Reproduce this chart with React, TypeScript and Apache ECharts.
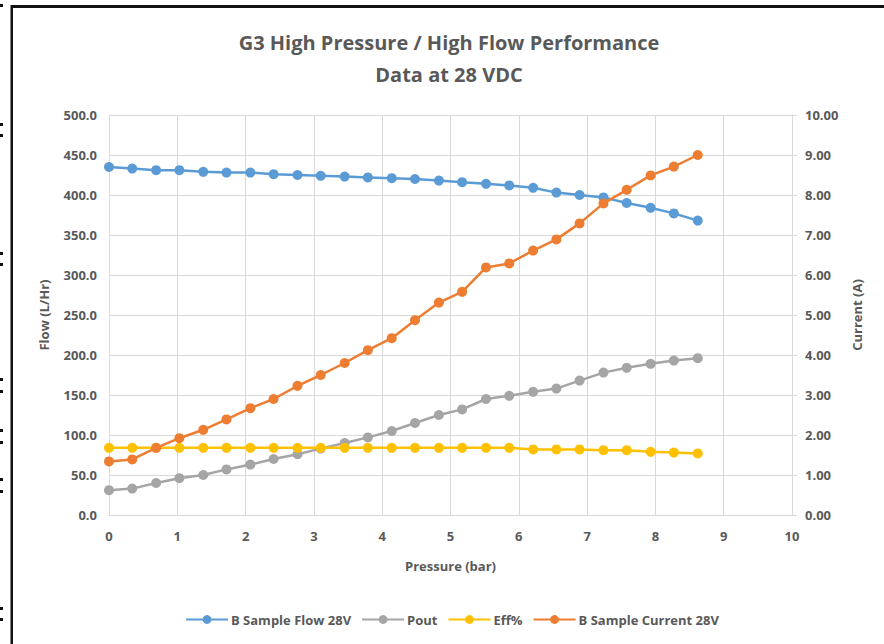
import React, { useEffect, useRef } from "react";
import * as echarts from "echarts";

const pressure = [0, 0.34, 0.69, 1.03, 1.38, 1.72, 2.07, 2.41, 2.76, 3.1, 3.45, 3.79, 4.14, 4.48, 4.83, 5.17, 5.52, 5.86, 6.21, 6.55, 6.89, 7.24, 7.58, 7.93, 8.27, 8.62];
const flow = [435, 433, 431, 431, 429, 428, 428, 426, 425, 424, 423, 422, 421, 420, 418, 416, 414, 412, 409, 403, 400, 397, 390, 384, 377, 368];
const pout = [31, 33, 40, 46, 50, 57, 63, 70, 76, 83, 90, 97, 105, 115, 125, 132, 145, 149, 154, 158, 168, 178, 184, 189, 193, 196];
const eff = [84, 84, 84, 84, 84, 84, 84, 84, 84, 84, 84, 84, 84, 84, 84, 84, 84, 84, 82, 82, 82, 81, 81, 79, 78, 77];
const current = [1.34, 1.39, 1.68, 1.92, 2.13, 2.39, 2.67, 2.9, 3.23, 3.5, 3.8, 4.12, 4.42, 4.87, 5.31, 5.58, 6.19, 6.29, 6.61, 6.89, 7.29, 7.79, 8.13, 8.49, 8.71, 9.0];

const seriesNames = ["B Sample Flow 28V", "Pout", "Eff%", "B Sample Current 28V"];
const seriesColors = ["#5b9bd5", "#a5a5a5", "#ffc000", "#ed7d31"];
const titleText = "G3 High Pressure / High Flow Performance\nData at 28 VDC";
const markYs = [4, 123, 134, 252, 263, 378, 390, 429, 441, 478, 490, 607, 618];

const FONT = "'Open Sans', 'Noto Sans', sans-serif";
const TXT = "#595959";

export default function App() {
  const ref = useRef<HTMLDivElement>(null);
  useEffect(() => {
    if (!ref.current) return;
    const chart = echarts.init(ref.current, undefined, { renderer: "svg" });
    const mk = (ys: number[]) => ys.map((_, i) => [pressure[i], ys[i]]);
    const dataSets = [flow, pout, eff, current];
    chart.setOption({
      animation: false,
      backgroundColor: "#ffffff",
      textStyle: { fontFamily: FONT },
      title: {
        text: titleText,
        left: 444,
        textAlign: "center",
        top: 21,
        textStyle: { fontFamily: FONT, fontSize: 20, fontWeight: "bold", color: TXT, lineHeight: 32 },
      },
      grid: { left: 109, right: 92, top: 115, bottom: 129, containLabel: false },
      legend: {
        bottom: 13,
        left: 180,
        itemWidth: 42,
        itemHeight: 11,
        itemGap: 10,
        data: seriesNames,
        textStyle: { fontFamily: FONT, fontSize: 13, fontWeight: "bold", color: TXT, padding: [0, 0, 0, -2] },
      },
      xAxis: {
        type: "value",
        min: 0,
        max: 10,
        interval: 1,
        name: "Pressure (bar)",
        nameLocation: "middle",
        nameGap: 44,
        nameTextStyle: { fontFamily: FONT, fontSize: 13, fontWeight: "bold", color: TXT },
        axisLine: { show: true, lineStyle: { color: "#d9d9d9", width: 1 } },
        axisTick: { show: false },
        axisLabel: { color: TXT, fontSize: 13, fontWeight: "bold", margin: 14, fontFamily: FONT },
        splitLine: { show: true, lineStyle: { color: "#d9d9d9", width: 1 } },
      },
      yAxis: [
        {
          type: "value",
          min: 0,
          max: 500,
          interval: 50,
          name: "Flow (L/Hr)",
          nameLocation: "middle",
          nameGap: 59,
          nameTextStyle: { fontFamily: FONT, fontSize: 13, fontWeight: "bold", color: TXT },
          axisLine: { show: true, lineStyle: { color: "#d9d9d9" } },
          axisTick: { show: false },
          axisLabel: { color: TXT, fontSize: 13, fontWeight: "bold", margin: 12, fontFamily: FONT, formatter: (v: number) => v.toFixed(1) },
          splitLine: { show: true, lineStyle: { color: "#d9d9d9", width: 1 } },
        },
        {
          type: "value",
          min: 0,
          max: 10,
          interval: 1,
          name: "Current (A)",
          nameLocation: "middle",
          nameGap: 58,
          nameRotate: 90,
          nameTextStyle: { fontFamily: FONT, fontSize: 13, fontWeight: "bold", color: TXT },
          axisLine: { show: true, lineStyle: { color: "#d9d9d9" } },
          axisTick: { show: true, length: 5, lineStyle: { color: "#d9d9d9" } },
          axisLabel: { color: TXT, fontSize: 13, fontWeight: "bold", margin: 13, fontFamily: FONT, formatter: (v: number) => v.toFixed(2) },
          splitLine: { show: false },
        },
      ],
      series: seriesNames.map((name, k) => ({
        name,
        type: "line",
        yAxisIndex: k === 3 ? 1 : 0,
        data: mk(dataSets[k]),
        symbol: "circle",
        symbolSize: 10,
        showSymbol: true,
        color: seriesColors[k],
        lineStyle: { width: 2.5, color: seriesColors[k] },
        itemStyle: { color: seriesColors[k] },
        z: 2 + k,
      })),
      graphic: [
        { type: "rect", shape: { x: 12, y: 5, width: 872, height: 3 }, style: { fill: "#111" }, z: 100 },
        { type: "rect", shape: { x: 10.5, y: 5, width: 2.5, height: 639 }, style: { fill: "#111" }, z: 100 },
        ...markYs.map((y) => ({ type: "rect", shape: { x: 0, y, width: 3, height: 3 }, style: { fill: "#111" }, z: 100 })),
      ],
    });
    return () => chart.dispose();
  }, []);
  return <div ref={ref} style={{ position: "fixed", left: 0, top: 0, width: 884, height: 644 }} />;
}
